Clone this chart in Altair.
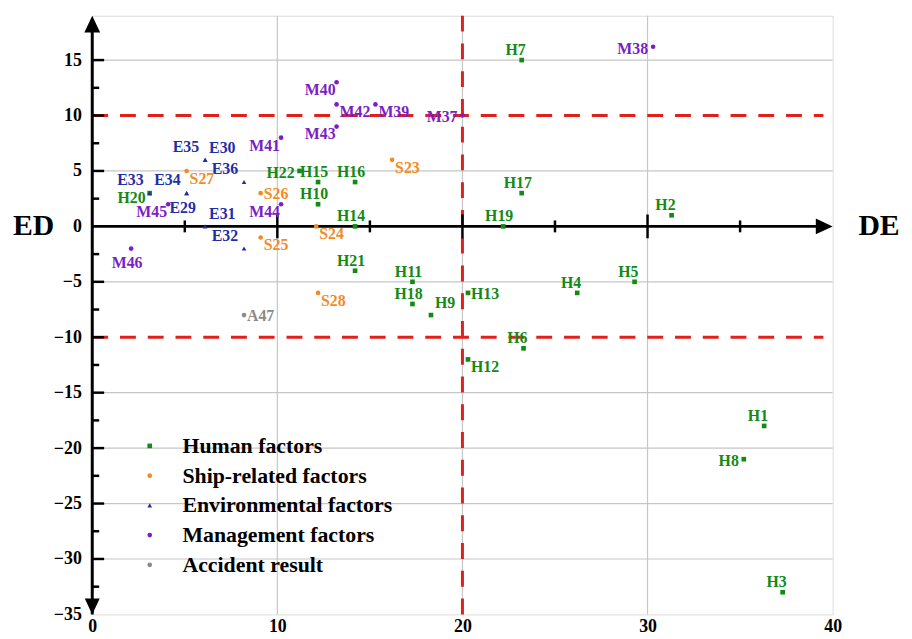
import altair as alt
import pandas as pd

# ---------------- data ----------------
labels = ["H1", "H2", "H3", "H4", "H5", "H6", "H7", "H8", "H9", "H10", "H11",
          "H12", "H13", "H14", "H15", "H16", "H17", "H18", "H19", "H20", "H21", "H22",
          "S23", "S24", "S25", "S26", "S27", "S28",
          "E29", "E30", "E31", "E32", "E33", "E34", "E35", "E36",
          "M37", "M38", "M39", "M40", "M41", "M42", "M43", "M44", "M45", "M46",
          "A47"]
de_values = [36.3, 31.3, 37.3, 26.2, 29.3, 23.3, 23.2, 35.2, 18.3, 12.2, 17.3,
             20.3, 20.3, 14.2, 12.2, 14.2, 23.2, 17.3, 22.2, 3.1, 14.2, 11.2,
             16.2, 12.1, 9.1, 9.1, 5.1, 12.2,
             5.1, 6.1, 6.1, 8.2, 3.1, 5.1, 6.1, 8.2,
             20.0, 30.3, 15.3, 13.2, 10.2, 13.2, 13.2, 10.2, 4.1, 2.1,
             8.2]
ed_values = [-18, 1, -33, -6, -5, -11, 15, -21, -8, 2, -5,
             -12, -6, 0, 4, 4, 3, -7, 0, 3, -4, 5,
             6, 0, -1, 3, 5, -6,
             3, 6, 0, -2, 3, 3, 6, 4,
             10, 16.2, 11, 13, 8, 11, 9, 2, 2, -2,
             -8]
groups = (["Human factors"] * 22 + ["Ship-related factors"] * 6 +
          ["Environmental factors"] * 8 + ["Management factors"] * 10 +
          ["Accident result"])
# label placement relative to the point
places = ["T", "T", "T", "T", "T", "T", "T", "L", "TR", "TC", "TC",
          "BR", "R", "TC", "TC", "TC", "TC", "TC", "TC", "LB", "TC", "L",
          "BR", "BR", "BR", "R", "BR", "BR",
          "BC", "TR", "TR", "TL", "TL", "TL", "TL", "TL",
          "L", "L", "BR", "BL", "BL", "BR", "BL", "BL", "BL", "BC",
          "R"]

cat_order = ["Human factors", "Ship-related factors", "Environmental factors",
             "Management factors", "Accident result"]
cat_colors = ["#138a13", "#f58a1f", "#1f2fa6", "#7a1fc4", "#8a8a8a"]
cat_shapes = ["square", "circle", "triangle-up", "circle", "circle"]

x_tick_labels = [0, 10, 20, 30, 40]
y_tick_labels = [-35, -30, -25, -20, -15, -10, -5, 0, 5, 10, 15]
grid_y = [-30, -25, -20, -15, -5, 5, 15]
grid_x = [10, 20, 30]
thresh_y = [10, -10]
thresh_x = [20]
x_major = [10, 20, 30]
x_minor = [5, 15, 25, 35]
y_major = [-30, -25, -20, -15, -10, -5, 5, 10, 15]
y_minor = [-32.5, -27.5, -22.5, -17.5, -12.5, -7.5, -2.5, 2.5, 7.5, 12.5]

df = pd.DataFrame({"label": labels, "DE": de_values, "ED": ed_values,
                   "group": groups, "place": places})

FONT = "Liberation Serif"
XMIN, XMAX, YMIN, YMAX = 0, 40, -35, 19

xs = alt.Scale(domain=[XMIN, XMAX], nice=False, zero=False)
ys = alt.Scale(domain=[YMIN, YMAX], nice=False, zero=False)
color_scale = alt.Scale(domain=cat_order, range=cat_colors)
shape_scale = alt.Scale(domain=cat_order, range=cat_shapes)

x_axis = alt.Axis(values=x_tick_labels, grid=False, domain=False, ticks=False,
                  labelFont=FONT, labelFontSize=18, labelFontWeight="bold",
                  labelColor="black", labelPadding=3, labelFlush=False,
                  labelOverlap=False, title=None)
y_axis = alt.Axis(values=y_tick_labels, grid=False, domain=False, ticks=False,
                  labelFont=FONT, labelFontSize=18, labelFontWeight="bold",
                  labelColor="black", labelPadding=11, labelFlush=False,
                  labelOverlap=False, title=None)


def XF(field):
    return alt.X(field, scale=xs, axis=x_axis, title=None)


def YF(field):
    return alt.Y(field, scale=ys, axis=y_axis, title=None)


def XD(v):
    return alt.X(datum=v, scale=xs, axis=x_axis, title=None)


def YD(v):
    return alt.Y(datum=v, scale=ys, axis=y_axis, title=None)


def X2D(v):
    return alt.X2(datum=v)


def Y2D(v):
    return alt.Y2(datum=v)


legend = alt.Legend(title=None, orient="none", legendX=47, legendY=423,
                    labelFont=FONT, labelFontSize=22, labelFontWeight="bold",
                    labelColor="black", symbolSize=22, rowPadding=8,
                    labelOffset=22, padding=0, symbolStrokeWidth=0,
                    labelLimit=400)

# ---------------- layers ----------------
gy = alt.Chart(pd.DataFrame({"v": grid_y})).mark_rule(color="#c6c6c6", strokeWidth=1.2).encode(
    y=YF("v:Q"), x=XD(XMIN), x2=X2D(XMAX))
gx = alt.Chart(pd.DataFrame({"v": grid_x})).mark_rule(color="#c6c6c6", strokeWidth=1.2).encode(
    x=XF("v:Q"), y=YD(YMIN), y2=Y2D(YMAX))

red_h = alt.Chart(pd.DataFrame({"v": thresh_y})).mark_rule(
    color="#e0201b", strokeWidth=3, strokeDash=[16, 12]).encode(
    y=YF("v:Q"), x=XD(XMIN), x2=X2D(39.5))
red_v = alt.Chart(pd.DataFrame({"v": thresh_x})).mark_rule(
    color="#e0201b", strokeWidth=3, strokeDash=[16, 12]).encode(
    x=XF("v:Q"), y=YD(YMIN), y2=Y2D(YMAX))

axis_y_line = alt.Chart(pd.DataFrame({"v": [0]})).mark_rule(color="black", strokeWidth=3).encode(
    x=XF("v:Q"), y=YD(YMIN), y2=Y2D(YMAX - 1))
axis_x_line = alt.Chart(pd.DataFrame({"v": [0]})).mark_rule(color="black", strokeWidth=3).encode(
    y=YF("v:Q"), x=XD(XMIN), x2=X2D(XMAX - 0.5))

xt_major = alt.Chart(pd.DataFrame({"v": x_major})).mark_rule(
    color="black", strokeWidth=2.5, yOffset=-12, y2Offset=12).encode(
    x=XF("v:Q"), y=YD(0), y2=Y2D(0))
xt_minor = alt.Chart(pd.DataFrame({"v": x_minor})).mark_rule(
    color="black", strokeWidth=2.5, yOffset=-6, y2Offset=6).encode(
    x=XF("v:Q"), y=YD(0), y2=Y2D(0))
yt_major = alt.Chart(pd.DataFrame({"v": y_major})).mark_rule(
    color="black", strokeWidth=2.5, x2Offset=12).encode(
    y=YF("v:Q"), x=XD(0), x2=X2D(0))
yt_minor = alt.Chart(pd.DataFrame({"v": y_minor})).mark_rule(
    color="black", strokeWidth=2.5, x2Offset=7).encode(
    y=YF("v:Q"), x=XD(0), x2=X2D(0))

arrow_up = alt.Chart(pd.DataFrame({"v": [0]})).mark_point(
    shape="M0,-1L0.94,1L-0.94,1Z", size=289, filled=True, color="black",
    opacity=1, yOffset=8.5).encode(x=XF("v:Q"), y=YD(YMAX))
arrow_down = alt.Chart(pd.DataFrame({"v": [0]})).mark_point(
    shape="M0,1L0.94,-1L-0.94,-1Z", size=256, filled=True, color="black",
    opacity=1, yOffset=-8).encode(x=XF("v:Q"), y=YD(YMIN))
arrow_right = alt.Chart(pd.DataFrame({"v": [0]})).mark_point(
    shape="M1,0L-1,-0.94L-1,0.94Z", size=289, filled=True, color="black",
    opacity=1, xOffset=-8.5).encode(y=YF("v:Q"), x=XD(XMAX))

points = alt.Chart(df).mark_point(filled=True, size=22, opacity=1).encode(
    x=XF("DE:Q"),
    y=YF("ED:Q"),
    color=alt.Color("group:N", scale=color_scale, legend=legend),
    shape=alt.Shape("group:N", scale=shape_scale, legend=legend),
)

place_styles = {
    "T": dict(align="right", baseline="alphabetic", dx=4, dy=-5),
    "TC": dict(align="center", baseline="alphabetic", dx=-4, dy=-5),
    "TR": dict(align="left", baseline="alphabetic", dx=4, dy=-7),
    "TL": dict(align="right", baseline="alphabetic", dx=-6, dy=-8),
    "L": dict(align="right", baseline="middle", dx=-5, dy=2),
    "LB": dict(align="right", baseline="middle", dx=-4, dy=5),
    "R": dict(align="left", baseline="middle", dx=3, dy=1),
    "BR": dict(align="left", baseline="top", dx=3, dy=0),
    "BL": dict(align="right", baseline="top", dx=-1, dy=0),
    "BC": dict(align="center", baseline="top", dx=-4, dy=7),
}
text_layers = []
for code, st in place_styles.items():
    text_layers.append(
        alt.Chart(df).transform_filter(alt.datum.place == code).mark_text(
            font=FONT, fontSize=16, fontWeight="bold", **st).encode(
            x=XF("DE:Q"),
            y=YF("ED:Q"),
            text="label:N",
            color=alt.Color("group:N", scale=color_scale, legend=None),
        )
    )

ed_title = alt.Chart(pd.DataFrame({"t": ["ED"]})).mark_text(
    font=FONT, fontSize=30, fontWeight="bold", align="left", baseline="middle",
    color="black").encode(x=alt.value(-80), y=YD(0), text="t:N")
de_title = alt.Chart(pd.DataFrame({"t": ["DE"]})).mark_text(
    font=FONT, fontSize=30, fontWeight="bold", align="left", baseline="middle",
    color="black", dx=26).encode(x=XD(XMAX), y=YD(0), text="t:N")

chart = alt.layer(
    gy, gx, red_h, red_v, axis_y_line, axis_x_line,
    xt_major, xt_minor, yt_major, yt_minor, arrow_up, arrow_down, arrow_right,
    points, *text_layers, ed_title, de_title,
).properties(
    width=747, height=604,
    padding={"left": 85, "top": 5, "right": 72, "bottom": 22},
    autosize=alt.AutoSizeParams(type="none"),
).configure_view(stroke=None).configure(background="white")

chart.save("out.html", embed_options={"renderer": "svg", "actions": False})
